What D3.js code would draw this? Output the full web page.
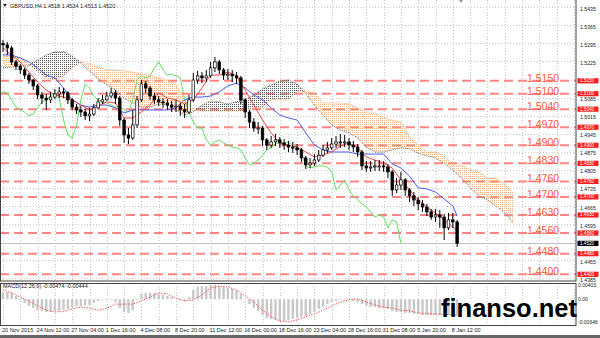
<!DOCTYPE html>
<html>
<head>
<meta charset="utf-8">
<script src="https://cdn.jsdelivr.net/npm/d3@7"></script>
<style>
  body { margin: 0; background: #fff; }
  svg { display: block; font-family: "Liberation Sans", Arial, sans-serif; }
</style>
</head>
<body>
<div id="chart"></div>
<script>
// GBPUSD H4, one candle per two bars
const closes = [
  1.5289,1.5277,1.5223,1.5207,1.5192,1.5172,1.5153,1.5130,1.5095,1.5083,
  1.5076,1.5087,1.5099,1.5107,1.5103,1.5076,1.5048,1.5037,1.5029,1.5014,
  1.5021,1.5045,1.5068,1.5076,1.5091,1.5103,1.5083,1.4998,1.4940,1.4928,
  1.4979,1.5076,1.5138,1.5122,1.5091,1.5076,1.5068,1.5064,1.5056,1.5048,
  1.5052,1.5037,1.5029,1.5076,1.5153,1.5169,1.5161,1.5169,1.5200,1.5223,
  1.5192,1.5172,1.5176,1.5169,1.5161,1.5076,1.5029,1.4990,1.4967,1.4967,
  1.4921,1.4901,1.4913,1.4921,1.4909,1.4901,1.4893,1.4890,1.4882,1.4851,
  1.4824,1.4831,1.4843,1.4862,1.4882,1.4890,1.4905,1.4913,1.4909,1.4913,
  1.4901,1.4893,1.4874,1.4820,1.4812,1.4816,1.4820,1.4820,1.4816,1.4797,
  1.4727,1.4746,1.4766,1.4727,1.4704,1.4688,1.4673,1.4661,1.4642,1.4622,
  1.4630,1.4622,1.4580,1.4611,1.4603,1.4520
];
const highs = [
  1.5308,1.5300,1.5285,1.5231,1.5215,1.5200,1.5180,1.5157,1.5138,1.5107,
  1.5099,1.5107,1.5118,1.5126,1.5122,1.5110,1.5083,1.5060,1.5052,1.5041,
  1.5045,1.5060,1.5083,1.5095,1.5107,1.5122,1.5114,1.5091,1.5006,1.4967,
  1.5037,1.5091,1.5153,1.5149,1.5130,1.5103,1.5091,1.5083,1.5079,1.5072,
  1.5076,1.5064,1.5060,1.5095,1.5180,1.5188,1.5184,1.5192,1.5223,1.5242,
  1.5231,1.5200,1.5196,1.5192,1.5184,1.5169,1.5083,1.5037,1.5006,1.4990,
  1.4975,1.4928,1.4936,1.4944,1.4932,1.4924,1.4917,1.4913,1.4905,1.4890,
  1.4859,1.4851,1.4866,1.4882,1.4901,1.4913,1.4928,1.4936,1.4944,1.4940,
  1.4928,1.4917,1.4905,1.4882,1.4839,1.4839,1.4843,1.4843,1.4839,1.4828,
  1.4804,1.4773,1.4797,1.4773,1.4735,1.4719,1.4700,1.4688,1.4673,1.4653,
  1.4653,1.4649,1.4634,1.4638,1.4638,1.4611
];
const lows = [
  1.5262,1.5250,1.5211,1.5192,1.5176,1.5157,1.5138,1.5114,1.5079,1.5060,
  1.5037,1.5064,1.5079,1.5083,1.5083,1.5060,1.5037,1.5021,1.5010,1.4998,
  1.4994,1.5014,1.5041,1.5060,1.5072,1.5083,1.5060,1.4975,1.4909,1.4905,
  1.4921,1.4967,1.5068,1.5103,1.5076,1.5060,1.5052,1.5045,1.5037,1.5029,
  1.5029,1.5014,1.5006,1.5021,1.5068,1.5138,1.5141,1.5145,1.5161,1.5184,
  1.5176,1.5153,1.5153,1.5145,1.5138,1.5060,1.5006,1.4967,1.4952,1.4944,
  1.4897,1.4882,1.4890,1.4897,1.4890,1.4882,1.4874,1.4870,1.4862,1.4835,
  1.4808,1.4812,1.4820,1.4835,1.4855,1.4870,1.4882,1.4890,1.4890,1.4893,
  1.4882,1.4874,1.4855,1.4804,1.4797,1.4797,1.4800,1.4800,1.4797,1.4773,
  1.4704,1.4715,1.4727,1.4704,1.4680,1.4665,1.4649,1.4642,1.4626,1.4611,
  1.4603,1.4580,1.4533,1.4572,1.4580,1.4506
];
const firstOpen = 1.5295;

// ichimoku lines, sampled every second candle (+ last one)
const tenkan = [
  1.5277,1.5250,1.5223,1.5184,1.5145,1.5114,1.5095,1.5087,1.5076,1.5056,
  1.5037,1.5052,1.5068,1.5064,1.5006,1.5006,1.5029,1.5056,1.5103,1.5083,
  1.5076,1.5060,1.5076,1.5122,1.5172,1.5172,1.5184,1.5169,1.5114,1.5056,
  1.4998,1.4948,1.4909,1.4901,1.4893,1.4874,1.4855,1.4862,1.4874,1.4897,
  1.4909,1.4890,1.4855,1.4843,1.4831,1.4812,1.4766,1.4727,1.4688,1.4661,
  1.4638,1.4611,1.4583,1.4572
];
const kijun = [
  1.5250,1.5250,1.5238,1.5223,1.5200,1.5172,1.5161,1.5122,1.5076,1.5056,
  1.5048,1.5056,1.5056,1.5045,1.5025,1.5037,1.5037,1.5037,1.5037,1.5037,
  1.5045,1.5076,1.5087,1.5087,1.5091,1.5107,1.5130,1.5141,1.5122,1.5095,
  1.5076,1.5045,1.5017,1.5006,1.4998,1.4948,1.4901,1.4882,1.4874,1.4874,
  1.4874,1.4866,1.4866,1.4866,1.4866,1.4828,1.4812,1.4781,1.4735,1.4731,
  1.4719,1.4692,1.4665,1.4626
];
// senkou spans, every second candle, running 26 bars past the last candle
const spanA = [
  1.5200,1.5203,1.5207,1.5207,1.5231,1.5250,1.5262,1.5262,1.5246,1.5219,
  1.5188,1.5157,1.5134,1.5114,1.5083,1.5064,1.5048,1.5048,1.5060,1.5056,
  1.5037,1.5017,1.5029,1.5056,1.5072,1.5068,1.5060,1.5068,1.5076,1.5095,
  1.5118,1.5134,1.5149,1.5153,1.5138,1.5099,1.5056,1.5017,1.4979,1.4959,
  1.4948,1.4928,1.4893,1.4874,1.4874,1.4882,1.4890,1.4886,1.4870,1.4859,
  1.4851,1.4831,1.4804,1.4773,1.4735,1.4704,1.4688,1.4665,1.4638,1.4599
];
const spanB = [
  1.5246,1.5242,1.5238,1.5215,1.5184,1.5161,1.5153,1.5169,1.5200,1.5223,
  1.5215,1.5203,1.5192,1.5192,1.5188,1.5184,1.5176,1.5169,1.5161,1.5153,
  1.5138,1.5076,1.5037,1.5033,1.5033,1.5033,1.5033,1.5033,1.5033,1.5045,
  1.5048,1.5076,1.5076,1.5076,1.5107,1.5107,1.5103,1.5064,1.5064,1.5064,
  1.5060,1.5045,1.5025,1.5025,1.5006,1.4998,1.4990,1.4932,1.4901,1.4874,
  1.4874,1.4859,1.4824,1.4824,1.4804,1.4797,1.4773,1.4773,1.4750,1.4715
];

// MACD(12,26,9)
const macdMain = [
  0.0020,0.0020,0.0018,0.0009,-0.0002,-0.0011,-0.0019,-0.0025,-0.0031,-0.0033,
  -0.0036,-0.0036,-0.0033,-0.0033,-0.0031,-0.0028,-0.0022,-0.0019,-0.0019,-0.0016,
  -0.0016,-0.0011,-0.0005,-0.0002,-0.0002,-0.0002,-0.0008,-0.0025,-0.0036,-0.0039,
  -0.0031,-0.0002,0.0015,0.0018,0.0018,0.0018,0.0015,0.0012,0.0009,0.0006,
  0.0001,-0.0002,-0.0005,0.0006,0.0026,0.0035,0.0037,0.0037,0.0040,0.0040,
  0.0037,0.0035,0.0032,0.0029,0.0026,0.0015,0.0001,-0.0014,-0.0025,-0.0033,
  -0.0045,-0.0053,-0.0056,-0.0059,-0.0062,-0.0062,-0.0059,-0.0056,-0.0053,-0.0050,
  -0.0048,-0.0042,-0.0036,-0.0028,-0.0019,-0.0014,-0.0008,-0.0005,-0.0002,-0.0002,
  -0.0002,-0.0005,-0.0008,-0.0014,-0.0019,-0.0022,-0.0022,-0.0025,-0.0025,-0.0028,
  -0.0033,-0.0036,-0.0036,-0.0039,-0.0039,-0.0042,-0.0042,-0.0045,-0.0045,-0.0045,
  -0.0045,-0.0045,-0.0048,-0.0045,-0.0045,-0.00474
];
const macdSignal = [
  0.0026,0.0018,0.0006,-0.0005,-0.0019,-0.0031,-0.0036,-0.0035,-0.0028,-0.0022,
  -0.0025,-0.0031,-0.0026,-0.0014,-0.0014,-0.0014,-0.0005,0.0006,0.0018,0.0015,
  0.0003,-0.0005,-0.0002,0.0012,0.0032,0.0037,0.0035,0.0026,0.0009,-0.0008,
  -0.0031,-0.0050,-0.0062,-0.0064,-0.0059,-0.0050,-0.0042,-0.0031,-0.0019,-0.0008,
  -0.0002,0.0001,-0.0008,-0.0016,-0.0022,-0.0025,-0.0031,-0.0033,-0.0039,-0.0041,
  -0.0042,-0.0043,-0.0044,-0.00444
];

const dateLabels = ["20 Nov 2015","24 Nov 12:00","27 Nov 04:00","1 Dec 16:00","4 Dec 08:00",
  "8 Dec 20:00","11 Dec 12:00","16 Dec 00:00","18 Dec 16:00","23 Dec 04:00",
  "28 Dec 16:00","31 Dec 08:00","5 Jan 20:00","8 Jan 12:00"];
// 1.5155 and 1.4525 sit under the level / price boxes
const priceTicks = [1.5435,1.5365,1.5295,1.5225,1.5085,1.5015,1.4945,1.4875,
  1.4805,1.4735,1.4665,1.4595,1.4455,1.4385];
const levels = [1.5150,1.5100,1.5040,1.4970,1.4900,1.4830,1.4760,1.4700,1.4630,1.4560,1.4480,1.4400];
const lastPrice = 1.4520;
const macdTicks = [0.00403, 0, -0.00646];
const macdTickText = ["0.00403", "0.00", "-0.00646"];
const header = "GBPUSD,H4  1.4518 1.4534 1.4513 1.4520";
const macdTitle = "MACD(12,26,9) -0.00474 -0.00444";
const watermark = "finanso.net";

const W = 600, H = 338;
const plotR = 576, mainB = 281, macdT = 283, macdB = 325;
const shift = 13; // 26 bars = 13 candles

const lineIdx = d3.range(0, 105, 2).concat([105]);
const spanIdx = d3.range(0, 119, 2);

const x = d3.scaleLinear().domain([0, 104]).range([3, 452.8]);
const y = d3.scaleLinear().domain([1.4378, 1.5463]).range([280, 0]);
const ym = d3.scaleLinear().domain([-0.00646, 0.00403]).range([322, 285]);

const svg = d3.select("#chart").append("svg").attr("width", W).attr("height", H);
svg.append("rect").attr("width", W).attr("height", H).attr("fill", "#fff");

const defs = svg.append("defs");
defs.append("clipPath").attr("id", "clipMain")
  .append("rect").attr("x", 0).attr("y", 0).attr("width", plotR).attr("height", mainB);
defs.append("clipPath").attr("id", "clipMacd")
  .append("rect").attr("x", 0).attr("y", macdT).attr("width", plotR).attr("height", macdB - macdT);
function dots(id, color) {
  const p = defs.append("pattern").attr("id", id).attr("patternUnits", "userSpaceOnUse")
    .attr("width", 2).attr("height", 2);
  p.append("rect").attr("width", 1).attr("height", 1).attr("fill", color);
}
dots("dotOrange", "#f7b27a");
dots("dotDark", "#5a5a5a");

// grid
const grid = svg.append("g").attr("stroke", "#c8c8c8").attr("stroke-width", 1)
  .attr("stroke-dasharray", "1,2");
grid.selectAll(".hg").data(priceTicks).join("line")
  .attr("x1", 0).attr("x2", plotR)
  .attr("y1", d => Math.round(y(d)) + 0.5).attr("y2", d => Math.round(y(d)) + 0.5);
const vgrid = d3.range(0, 134, 4).filter(i => x(i) < plotR);
grid.selectAll(".vg").data(vgrid).join("line")
  .attr("x1", d => Math.round(x(d)) + 0.5).attr("x2", d => Math.round(x(d)) + 0.5)
  .attr("y1", 0).attr("y2", mainB);
grid.selectAll(".vgm").data(vgrid).join("line")
  .attr("x1", d => Math.round(x(d)) + 0.5).attr("x2", d => Math.round(x(d)) + 0.5)
  .attr("y1", macdT).attr("y2", macdB);

const main = svg.append("g").attr("clip-path", "url(#clipMain)");

// horizontal levels
main.selectAll(".lvl").data(levels).join("line")
  .attr("x1", 0).attr("x2", plotR)
  .attr("y1", d => y(d)).attr("y2", d => y(d))
  .attr("stroke", "#ff8585").attr("stroke-width", 2).attr("stroke-dasharray", "9,5");

// bid line
main.append("line").attr("x1", 0).attr("x2", plotR)
  .attr("y1", Math.round(y(lastPrice)) + 0.5).attr("y2", Math.round(y(lastPrice)) + 0.5)
  .attr("stroke", "#c0c0c0");

// kumo
const cloud = spanIdx.map((idx, k) => ({ i: idx, a: spanA[k], b: spanB[k] }));
main.append("path").datum(cloud).attr("fill", "url(#dotOrange)")
  .attr("d", d3.area().x(d => x(d.i)).y0(d => y(d.a)).y1(d => y(Math.max(d.a, d.b))));
main.append("path").datum(cloud).attr("fill", "url(#dotDark)")
  .attr("d", d3.area().x(d => x(d.i)).y0(d => y(d.b)).y1(d => y(Math.max(d.a, d.b))));
main.append("path").datum(cloud).attr("fill", "none").attr("stroke", "#f4a460")
  .attr("stroke-dasharray", "1,1")
  .attr("d", d3.line().x(d => x(d.i)).y(d => y(d.b)));
main.append("path").datum(cloud).attr("fill", "none").attr("stroke", "#666")
  .attr("stroke-dasharray", "1,1")
  .attr("d", d3.line().x(d => x(d.i)).y(d => y(d.a)));

// chikou: closes shifted 26 bars back
main.append("path").datum(closes).attr("fill", "none").attr("stroke", "#5fe05f")
  .attr("d", d3.line().x((d, i) => x(i - shift)).y(d => y(d)));

// kijun / tenkan
main.append("path").datum(kijun).attr("fill", "none").attr("stroke", "#4b5cf2")
  .attr("d", d3.line().x((d, k) => x(lineIdx[k])).y(d => y(d)));
main.append("path").datum(tenkan).attr("fill", "none").attr("stroke", "#f04646")
  .attr("d", d3.line().x((d, k) => x(lineIdx[k])).y(d => y(d)));

// candles
const candles = closes.map((c, i) => {
  const o = i ? closes[i - 1] : firstOpen;
  return { i, o, c, h: Math.max(highs[i], o, c), l: Math.min(lows[i], o, c) };
});
const cg = main.append("g");
cg.selectAll(".wick").data(candles).join("line")
  .attr("x1", d => x(d.i)).attr("x2", d => x(d.i))
  .attr("y1", d => y(d.h)).attr("y2", d => y(d.l))
  .attr("stroke", "#000").attr("stroke-width", 1);
cg.selectAll(".body").data(candles).join("rect")
  .attr("x", d => x(d.i) - 1.3).attr("width", 2.6)
  .attr("y", d => y(Math.max(d.o, d.c)))
  .attr("height", d => Math.max(1, Math.abs(y(d.o) - y(d.c))))
  .attr("fill", d => d.c >= d.o ? "#fff" : "#000")
  .attr("stroke", "#000").attr("stroke-width", 0.7);

// level captions
svg.selectAll(".lvlTxt").data(levels).join("text")
  .attr("x", 527).attr("y", d => y(d) + 1)
  .attr("font-size", 10.5).attr("fill", "#ff5a3a")
  .text(d => d.toFixed(4));

// MACD
const macd = svg.append("g").attr("clip-path", "url(#clipMacd)");
macd.selectAll(".hist").data(macdMain).join("rect")
  .attr("x", (d, i) => x(i) - 1.2).attr("width", 2.4)
  .attr("y", d => Math.min(ym(d), ym(0)))
  .attr("height", d => Math.abs(ym(d) - ym(0)))
  .attr("fill", "#c8c8c8");
macd.append("path").datum(macdSignal).attr("fill", "none")
  .attr("stroke", "#ff3c3c").attr("stroke-dasharray", "1.2,1.5")
  .attr("d", d3.line().x((d, k) => x(lineIdx[k])).y(d => ym(d)));

// borders
svg.append("rect").attr("x", 0.5).attr("y", -1).attr("width", plotR - 0.5).attr("height", mainB + 1)
  .attr("fill", "none").attr("stroke", "#444");
svg.append("rect").attr("x", 0.5).attr("y", macdT + 0.5).attr("width", plotR - 0.5)
  .attr("height", macdB - macdT).attr("fill", "none").attr("stroke", "#444");
svg.append("rect").attr("x", 0).attr("y", 335).attr("width", W).attr("height", 3).attr("fill", "#666");

// right price axis
const axisG = svg.append("g").attr("font-size", 5.2).attr("fill", "#222");
axisG.selectAll(".pt").data(priceTicks).join("text")
  .attr("x", 580).attr("y", d => y(d) + 3.6).text(d => d.toFixed(4));
const boxes = svg.append("g");
boxes.selectAll(".box").data(levels).join("rect")
  .attr("x", 577.5).attr("width", 21).attr("y", d => y(d) - 2.6).attr("height", 5.2)
  .attr("fill", "#ff1e1e");
boxes.selectAll(".boxTxt").data(levels).join("text")
  .attr("x", 580).attr("y", d => y(d) + 1.5).attr("font-size", 4.6).attr("fill", "#fff")
  .text(d => d.toFixed(4));
boxes.append("rect").attr("x", 577.5).attr("width", 21).attr("y", y(lastPrice) - 2.6).attr("height", 5.2)
  .attr("fill", "#000");
boxes.append("text").attr("x", 580).attr("y", y(lastPrice) + 1.5).attr("font-size", 4.6)
  .attr("fill", "#fff").text(lastPrice.toFixed(4));

// MACD axis
axisG.selectAll(".mt").data(macdTicks).join("text")
  .attr("x", 578).attr("y", d => ym(d) + 2).attr("font-size", 5)
  .text((d, k) => macdTickText[k]);

// dates
axisG.selectAll(".dt").data(dateLabels).join("text")
  .attr("x", (d, k) => x(k * 8) - 1).attr("y", 332).attr("font-size", 5.5).text(d => d);

// titles
svg.append("path").attr("d", "M3,4 L7,4 L5,7 Z").attr("fill", "#222");
svg.append("text").attr("x", 10).attr("y", 8).attr("font-size", 5.5).attr("fill", "#222").text(header);
svg.append("text").attr("x", 3).attr("y", 288).attr("font-size", 5.5).attr("fill", "#222").text(macdTitle);
svg.append("path").attr("d", "M459,0 L463,0 L461,3 Z").attr("fill", "#999");

svg.append("text").attr("x", 441).attr("y", 317).attr("font-size", 25.5).attr("font-weight", "bold")
  .attr("fill", "#000").text(watermark);
</script>
</body>
</html>
